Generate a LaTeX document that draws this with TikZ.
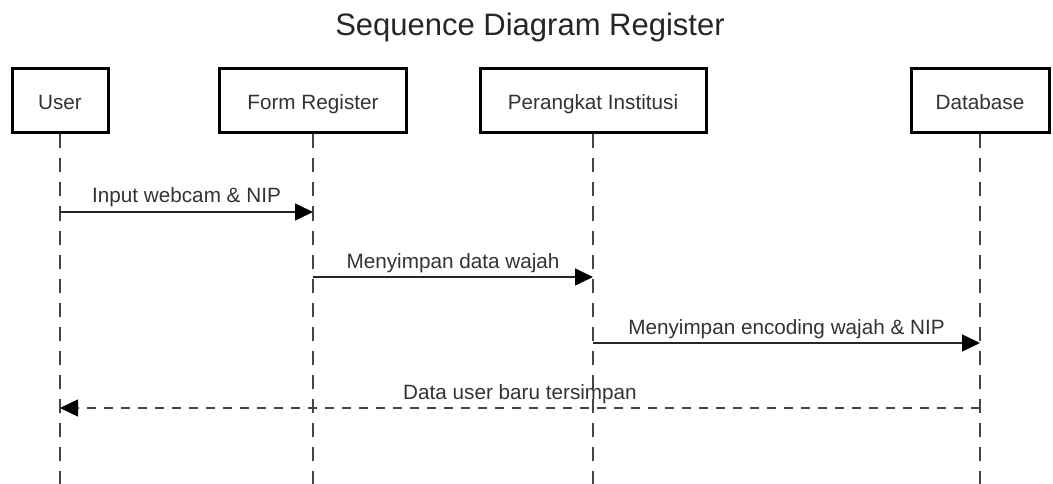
\documentclass[tikz,border=0pt]{standalone}
\usepackage{fontspec}
\setmainfont{Liberation Sans}
\usetikzlibrary{arrows.meta}
\definecolor{txt}{HTML}{333333}
\definecolor{life}{HTML}{444444}
\tikzset{
  actor/.style={draw=black, line width=3pt, fill=white, minimum height=64pt,
    inner sep=0pt, text height=18pt, text depth=1pt,
    font=\fontsize{20.7}{24}\selectfont, text=txt},
  lifeline/.style={draw=life, line width=1.6pt, dash pattern=on 14pt off 10pt},
  msg/.style={draw=black!85, line width=1.6pt,
    -{Triangle[length=18pt,width=17pt,color=black]}},
  reply/.style={draw=life, line width=1.6pt, dash pattern=on 9pt off 8pt,
    -{Triangle[length=18pt,width=17pt,color=black]}},
  msglabel/.style={font=\fontsize{20.7}{24}\selectfont, text=txt, anchor=base,
    inner sep=0pt, yshift=9pt}
}
\begin{document}
\begin{tikzpicture}[x=1pt,y=-1pt]
\useasboundingbox (0,0) rectangle (1053,484);

% title
\node[font=\fontsize{31}{36}\selectfont, text=black!85] (title) at (530,27) {Sequence Diagram Register};

% lifeline ends
\coordinate (uEnd) at (60,484);
\coordinate (fEnd) at (313,484);
\coordinate (pEnd) at (593,484);
\coordinate (dEnd) at (980,484);

% participants (placed first so the lifelines can start at them)
\node[actor, minimum width=96pt]  (user) at (60,101)  {User};
\node[actor, minimum width=187pt] (form) at (313,101) {Form Register};
\node[actor, minimum width=226pt] (inst) at (593,101) {Perangkat Institusi};
\node[actor, minimum width=138pt] (db)   at (980,101) {Database};

% lifelines
\draw[lifeline] (user.south) -- (uEnd);
\draw[lifeline] (form.south) -- (fEnd);
\draw[lifeline] (inst.south) -- (pEnd);
\draw[lifeline] (db.south) -- (dEnd);

% message anchor points on the lifelines
\coordinate (u1) at (60,212);  \coordinate (f1) at (313,212);
\coordinate (f2) at (313,277); \coordinate (p2) at (593,277);
\coordinate (p3) at (593,343); \coordinate (d3) at (980,343);
\coordinate (d4) at (980,408); \coordinate (u4) at (60,408);

% messages
\draw[msg] (u1) -- (f1) node[msglabel, midway] {Input webcam \& NIP};
\draw[msg] (f2) -- (p2) node[msglabel, midway] {Menyimpan data wajah};
\draw[msg] (p3) -- (d3) node[msglabel, midway] {Menyimpan encoding wajah \& NIP};
\draw[reply] (d4) -- (u4) node[msglabel, midway] {Data user baru tersimpan};
\end{tikzpicture}
\end{document}
